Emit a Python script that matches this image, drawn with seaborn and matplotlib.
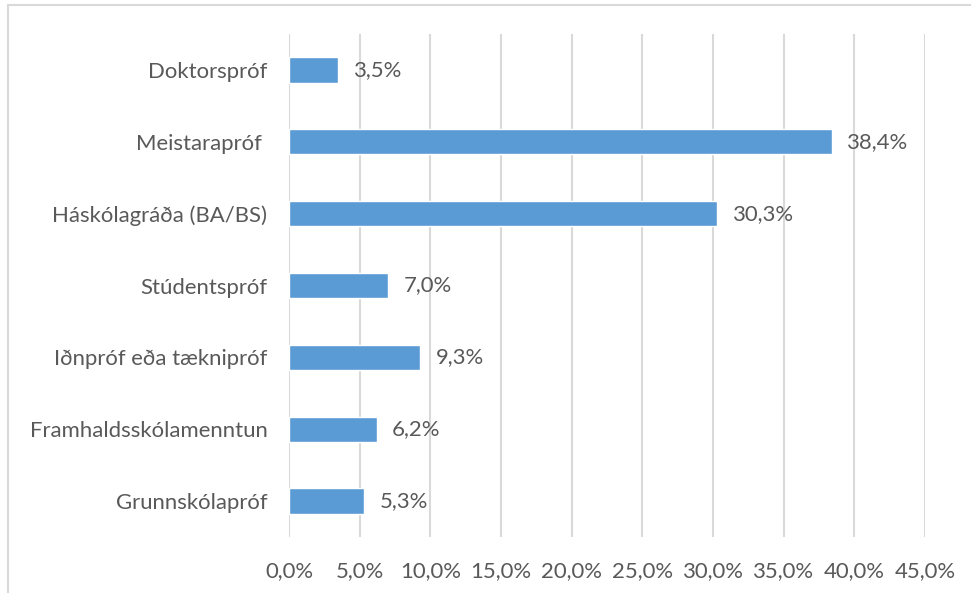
import matplotlib
matplotlib.use("Agg")
import matplotlib.pyplot as plt
import seaborn as sns
import pandas as pd
from matplotlib.lines import Line2D

categories = ["Doktorspróf", "Meistarapróf ", "Háskólagráða (BA/BS)", "Stúdentspróf",
              "Iðnpróf eða tæknipróf", "Framhaldsskólamenntun", "Grunnskólapróf"]
values = [3.5, 38.4, 30.3, 7.0, 9.3, 6.2, 5.3]
xticks = [0, 5, 10, 15, 20, 25, 30, 35, 40, 45]

df = pd.DataFrame({"cat": categories, "val": values})

sns.set_style("white")
plt.rcParams["font.family"] = ["Lato", "DejaVu Sans"]

text_color = "#595959"
grid_color = "#D9D9D9"
bar_color = "#5B9BD5"
fs = 15.9

fig = plt.figure(figsize=(9.71, 5.93), dpi=100)
ax = fig.add_axes([289 / 971, 1 - 537 / 593, (925 - 289) / 971, (537 - 34) / 593])

sns.barplot(data=df, x="val", y="cat", orient="h", color=bar_color, width=0.35,
            saturation=1, ax=ax, zorder=3)

ax.set_xlim(0, 45)
ax.set_ylim(6.5, -0.5)
ax.set_xticks(xticks)
ax.set_xticklabels([f"{t:.1f}%".replace(".", ",") for t in xticks])
ax.set_xlabel("")
ax.set_ylabel("")
for s in ax.spines.values():
    s.set_visible(False)
ax.grid(axis="x", color=grid_color, linewidth=1.5, zorder=0)
ax.grid(axis="y", visible=False)
ax.tick_params(axis="x", length=0, pad=17, labelsize=fs, labelcolor=text_color)
ax.tick_params(axis="y", length=0, pad=15.5, labelsize=fs, labelcolor=text_color)

for i, v in enumerate(values):
    ax.text(v + 1.1, i, f"{v:.1f}%".replace(".", ","), va="center", ha="left",
            fontsize=fs, color=text_color)

# outer chart frame (cropped)
fig.add_artist(Line2D([7.5 / 971, 1], [1 - 5 / 593, 1 - 5 / 593], transform=fig.transFigure,
                      color=grid_color, linewidth=1.5))
fig.add_artist(Line2D([7.5 / 971, 7.5 / 971], [0, 1 - 5 / 593], transform=fig.transFigure,
                      color=grid_color, linewidth=1.5))

fig.savefig("out.png", dpi=100)
